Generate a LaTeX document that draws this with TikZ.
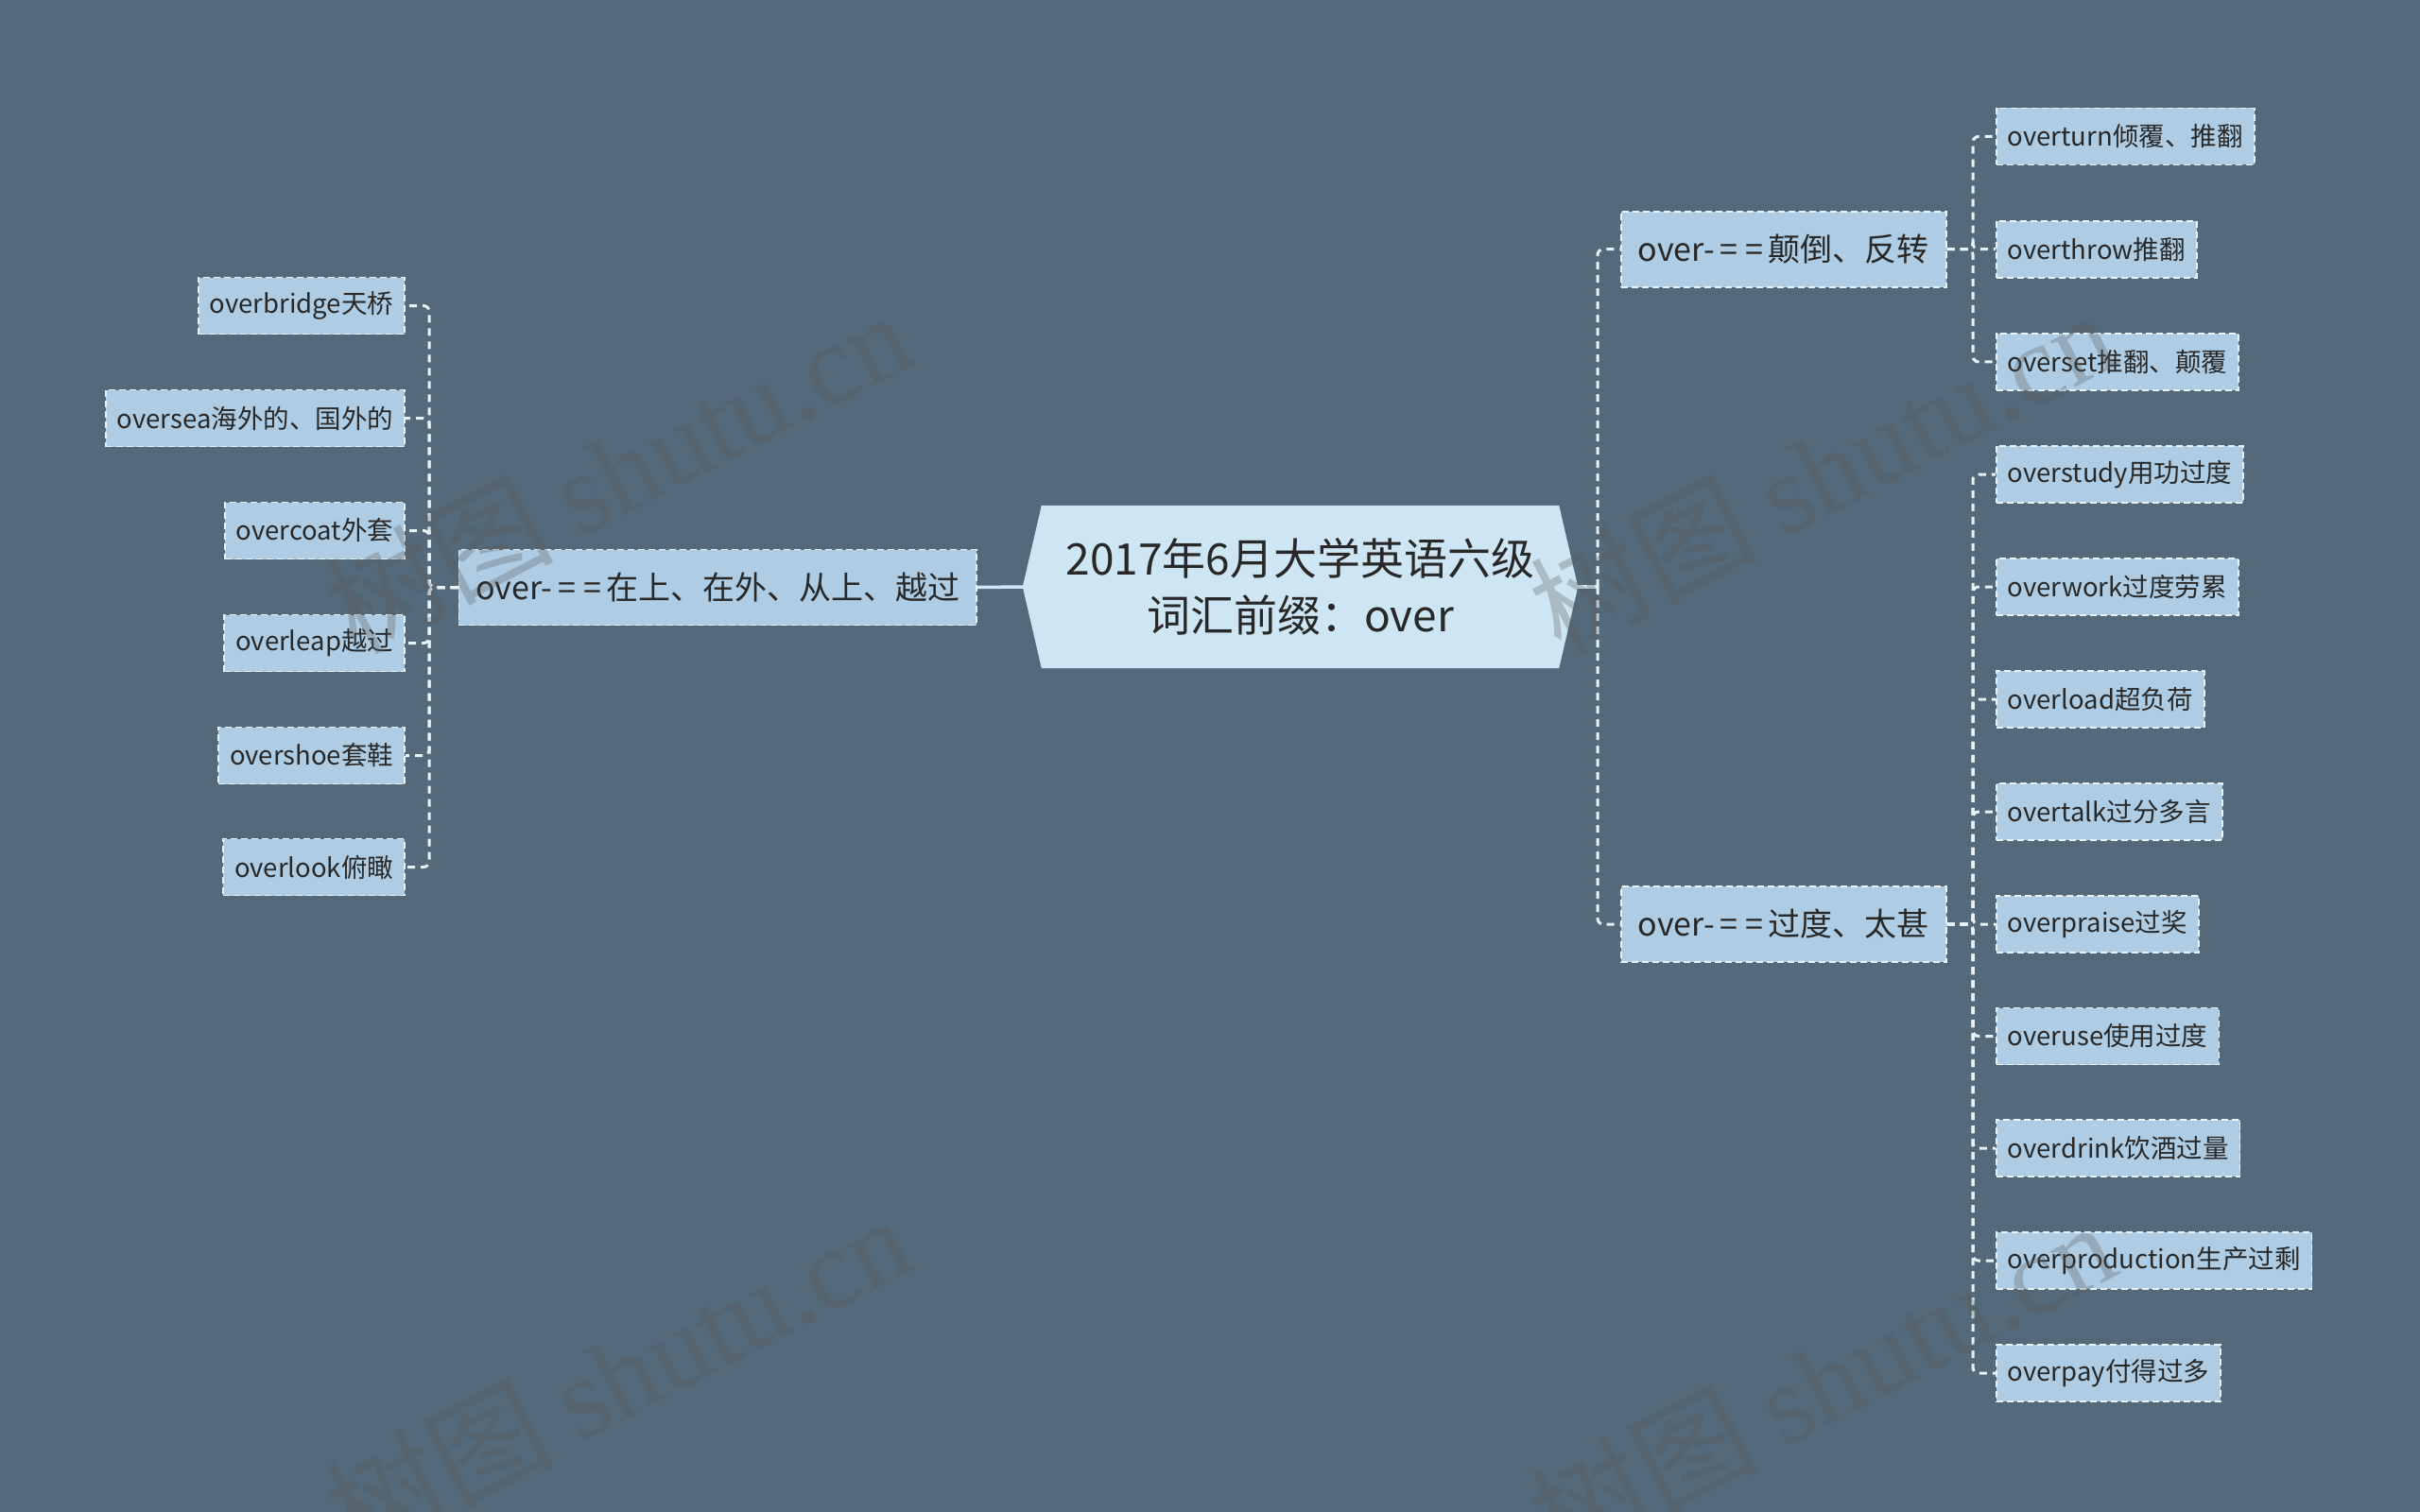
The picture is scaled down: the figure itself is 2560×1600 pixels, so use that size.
\documentclass[tikz,border=0pt]{standalone}
\usepackage{fontspec}
\setmainfont{Noto Sans CJK SC}
\newfontfamily\wmfont{Liberation Serif}
\newfontfamily\wmcjkfont{Noto Sans CJK SC}
\usetikzlibrary{backgrounds}
\definecolor{bgc}{RGB}{84,105,121}
\definecolor{leaffill}{RGB}{174,204,227}
\definecolor{centerfill}{RGB}{206,230,243}
\definecolor{edgec}{RGB}{232,243,249}
\definecolor{txtc}{RGB}{40,40,40}
\definecolor{wmc}{RGB}{90,90,90}
\newcommand\myeqq{-\kern6pt=\kern8pt=\kern5pt}
\begin{document}
\begin{tikzpicture}[x=1pt,y=-1pt,
 leaf/.style={draw=edgec, fill=leaffill, dash pattern=on 7pt off 4pt, line width=1.8pt, text=txtc, font=\fontsize{27.5}{32}\selectfont, minimum height=60pt, inner xsep=12pt, inner ysep=0pt},
 branch/.style={leaf, font=\fontsize{34}{40}\selectfont, minimum height=80pt, inner xsep=18pt},
 centernode/.style={text=txtc, font=\fontsize{46}{60}\selectfont, align=center, minimum width=547pt, minimum height=172pt, inner sep=0pt},
 link/.style={draw=edgec, line width=3pt, dash pattern=on 8pt off 6pt, rounded corners=6pt},
 solidlink/.style={draw=centerfill, line width=3.5pt},
 wm/.style={text=wmc, opacity=0.3, rotate=27.5, font=\fontsize{120}{120}\selectfont}
]
\useasboundingbox (0,0) rectangle (2560,1600);

% center
\node[centernode] (c) at (1375.5,621) {2017年6月大学英语六级\\词汇前缀：over};
\begin{scope}[on background layer]
\fill[bgc] (0,0) rectangle (2560,1600);
\fill[centerfill] (c.north west) -- (c.north east) -- ([xshift=20pt]c.east) -- (c.south east) -- (c.south west) -- ([xshift=-20pt]c.west) -- cycle;
\end{scope}
\coordinate (cR) at ([xshift=20pt]c.east);
\coordinate (cL) at ([xshift=-20pt]c.west);
\coordinate (jR) at (1690,621);
\coordinate (tR) at (2087,0);
\coordinate (tL) at (454,0);

% branches
\node[branch, anchor=west] (r1) at (1714,263.7) {over\myeqq 颠倒、反转};
\node[branch, anchor=west] (r2) at (1714,978) {over\myeqq 过度、太甚};
\node[branch, anchor=east] (l1) at (1034,621.5) {over\myeqq 在上、在外、从上、越过};

% right top leaves
\node[leaf, anchor=west] (a1) at (2111,144.5) {overturn倾覆、推翻};
\node[leaf, anchor=west] (a2) at (2111,263.7) {overthrow推翻};
\node[leaf, anchor=west] (a3) at (2111,382.9) {overset推翻、颠覆};

% right bottom leaves
\node[leaf, anchor=west] (b1) at (2111,502) {overstudy用功过度};
\node[leaf, anchor=west] (b2) at (2111,621) {overwork过度劳累};
\node[leaf, anchor=west] (b3) at (2111,740) {overload超负荷};
\node[leaf, anchor=west] (b4) at (2111,859) {overtalk过分多言};
\node[leaf, anchor=west] (b5) at (2111,978) {overpraise过奖};
\node[leaf, anchor=west] (b6) at (2111,1096.5) {overuse使用过度};
\node[leaf, anchor=west] (b7) at (2111,1215) {overdrink饮酒过量};
\node[leaf, anchor=west] (b8) at (2111,1334) {overproduction生产过剩};
\node[leaf, anchor=west] (b9) at (2111,1453) {overpay付得过多};

% left leaves
\node[leaf, anchor=east] (d1) at (429,323.5) {overbridge天桥};
\node[leaf, anchor=east] (d2) at (429,442.5) {oversea海外的、国外的};
\node[leaf, anchor=east] (d3) at (429,561.5) {overcoat外套};
\node[leaf, anchor=east] (d4) at (429,680.5) {overleap越过};
\node[leaf, anchor=east] (d5) at (429,799.5) {overshoe套鞋};
\node[leaf, anchor=east] (d6) at (429,917.5) {overlook俯瞰};

% connectors
\draw[solidlink] (cR) -- (jR);
\draw[link] (jR) |- (r1.west);
\draw[link] (jR) |- (r2.west);
\draw[solidlink] (cL) -- (l1.east);

\foreach \n in {a1,a2,a3} \draw[link] (r1.east) -- (r1.east -| tR) |- (\n.west);
\foreach \n in {b1,b2,b3,b4,b5,b6,b7,b8,b9} \draw[link] (r2.east) -- (r2.east -| tR) |- (\n.west);
\foreach \n in {d1,d2,d3,d4,d5,d6} \draw[link] (l1.west) -- (l1.west -| tL) |- (\n.east);

% watermarks
\node[wm] (w1) at (653,498) {\wmcjkfont 树图 \wmfont shutu.cn};
\node[wm] (w2) at (1927,498) {\wmcjkfont 树图 \wmfont shutu.cn};
\node[wm] (w3) at (653,1455) {\wmcjkfont 树图 \wmfont shutu.cn};
\node[wm] (w4) at (1927,1461) {\wmcjkfont 树图 \wmfont shutu.cn};
\end{tikzpicture}
\end{document}
